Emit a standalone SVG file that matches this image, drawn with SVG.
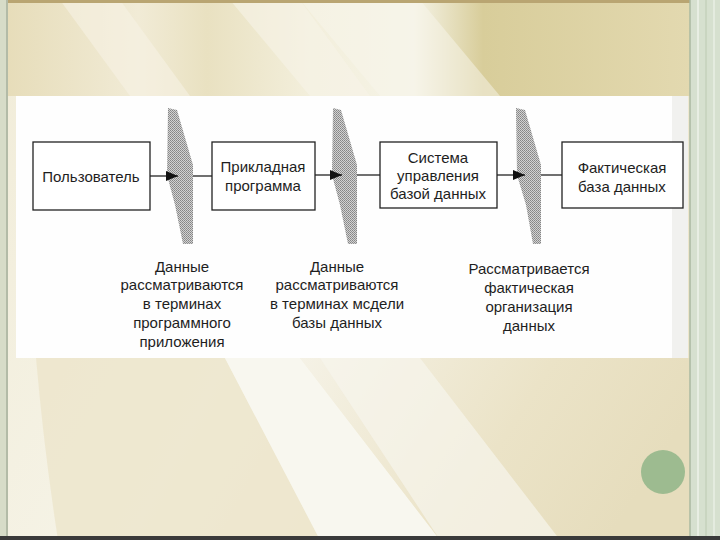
<svg xmlns="http://www.w3.org/2000/svg" width="720" height="540" viewBox="0 0 720 540">
<defs>
<linearGradient id="bg" x1="0" y1="0" x2="1" y2="0.4">
<stop offset="0" stop-color="#f1ecd8"/>
<stop offset="0.5" stop-color="#f6f4e8"/>
<stop offset="1" stop-color="#ede6cc"/>
</linearGradient>
<linearGradient id="topband" x1="0" y1="0" x2="1" y2="0">
<stop offset="0" stop-color="#e6dcb8"/>
<stop offset="0.2" stop-color="#f1ebd6"/>
<stop offset="0.3" stop-color="#e9e1c1"/>
<stop offset="0.45" stop-color="#f3efdc"/>
<stop offset="0.6" stop-color="#f5f3e6"/>
<stop offset="0.7" stop-color="#d8cd9a"/>
<stop offset="1" stop-color="#e3d9b0"/>
</linearGradient>
<linearGradient id="rightbot" x1="0" y1="0" x2="1" y2="0.3">
<stop offset="0" stop-color="#f5f2e6"/>
<stop offset="0.6" stop-color="#ebe3c7"/>
<stop offset="1" stop-color="#e6ddbd"/>
</linearGradient>
<pattern id="dots" width="2" height="2" patternUnits="userSpaceOnUse">
<rect width="2" height="2" fill="#d2d2d2"/>
<rect width="1" height="1" fill="#858585"/>
<rect x="1" y="1" width="1" height="1" fill="#939393"/>
</pattern>
<marker id="ah" viewBox="0 0 12 10" refX="12" refY="5" markerWidth="12" markerHeight="10" markerUnits="userSpaceOnUse" orient="auto">
<path d="M0,0 L12,5 L0,10 Z" fill="#111"/>
</marker>
</defs>
<style>
.box{fill:#fff;stroke:#222;stroke-width:1.3}
.t{font-family:"Liberation Sans",Arial,sans-serif;font-size:15px;fill:#1e1e1e;text-anchor:middle}
.scr{fill:url(#dots)}
.ln{stroke:#222;stroke-width:1.3;fill:none}
</style>
<!-- background -->
<rect width="720" height="540" fill="url(#bg)"/>
<rect x="0" y="0" width="690" height="96" fill="url(#topband)"/>
<polygon points="60,0 120,0 190,96 130,96" fill="#f6f2e4" opacity="0.6"/>
<polygon points="230,0 300,0 370,96 310,96" fill="#f7f4e8" opacity="0.6"/>
<polygon points="300,0 420,0 500,96 380,96" fill="#f8f6ec" opacity="0.5"/>
<path d="M36,358 L225,358 L320,540 L58,540 Q44,450 36,358 Z" fill="#ece5ca" opacity="0.8"/>
<polygon points="225,358 300,358 440,540 320,540" fill="#f8f7ef"/>
<polygon points="300,358 690,358 690,540 440,540" fill="url(#rightbot)"/>
<polygon points="320,358 420,358 560,540 440,540" fill="#f7f5ec" opacity="0.7"/>
<rect x="0" y="0" width="720" height="3" fill="#b9a572"/>
<rect x="0" y="0" width="8" height="540" fill="#d7dcc8"/>
<line x1="7" y1="0" x2="7" y2="540" stroke="#8f9a86" stroke-width="1"/>
<rect x="690" y="0" width="30" height="540" fill="#d6e0cf"/>
<line x1="690" y1="0" x2="690" y2="540" stroke="#aab8a0" stroke-width="1.5"/>
<line x1="698" y1="0" x2="698" y2="540" stroke="#e8eee3" stroke-width="2"/>
<line x1="706" y1="0" x2="706" y2="540" stroke="#bccab2" stroke-width="1"/>
<line x1="714" y1="0" x2="714" y2="540" stroke="#e4ebdf" stroke-width="2"/>
<rect x="0" y="536" width="720" height="4" fill="#3a3a3a"/>
<circle cx="663" cy="472" r="22" fill="#9dbb90"/>
<!-- panel -->
<rect x="16" y="96" width="672" height="262" fill="#fefefe"/>
<rect x="672" y="96" width="16" height="262" fill="#f1f1ef"/>
<!-- screens -->
<g id="screen1"><polygon class="scr" points="168,108 177,110 193,165 193,244 183,244 175,205 167,175"/></g>
<g id="screen2"><polygon class="scr" points="333,108 341,110 357,165 357,244 348,244 340,205 332,175"/></g>
<g id="screen3"><polygon class="scr" points="516,108 525,110 541,165 541,244 533,244 526,205 517,175"/></g>
<!-- connectors -->
<g id="connectors">
<line class="ln" x1="150" y1="176" x2="178" y2="176" marker-end="url(#ah)"/>
<line class="ln" x1="193" y1="176" x2="212" y2="176"/>
<line class="ln" x1="315" y1="175" x2="342" y2="175" marker-end="url(#ah)"/>
<line class="ln" x1="357" y1="175" x2="380" y2="175"/>
<line class="ln" x1="497" y1="175" x2="525" y2="175" marker-end="url(#ah)"/>
<line class="ln" x1="541" y1="175" x2="562" y2="175"/>
</g>
<!-- nodes -->
<g id="user">
<rect class="box" x="33" y="142" width="117" height="68"/>
<text class="t" x="91" y="182">Пользователь</text>
</g>
<g id="app">
<rect class="box" x="212" y="142" width="103" height="68"/>
<text class="t" x="263" y="172">Прикладная</text>
<text class="t" x="263" y="191">программа</text>
</g>
<g id="dbms">
<rect class="box" x="380" y="142" width="117" height="66"/>
<text class="t" x="438" y="163">Система</text>
<text class="t" x="438" y="181">управления</text>
<text class="t" x="438" y="199">базой данных</text>
</g>
<g id="db">
<rect class="box" x="562" y="142" width="121" height="66"/>
<text class="t" x="622" y="173">Фактическая</text>
<text class="t" x="622" y="192">база данных</text>
</g>
<g id="label1">
<text class="t" x="182" y="272">Данные</text>
<text class="t" x="182" y="290">рассматриваются</text>
<text class="t" x="182" y="309">в терминах</text>
<text class="t" x="182" y="328">программного</text>
<text class="t" x="182" y="347">приложения</text>
</g>
<g id="label2">
<text class="t" x="337" y="272">Данные</text>
<text class="t" x="337" y="290">рассматриваются</text>
<text class="t" x="337" y="309">в терминах мсдели</text>
<text class="t" x="337" y="328">базы данных</text>
</g>
<g id="label3">
<text class="t" x="529" y="274">Рассматривается</text>
<text class="t" x="529" y="293">фактическая</text>
<text class="t" x="529" y="312">организация</text>
<text class="t" x="529" y="331">данных</text>
</g>
</svg>
